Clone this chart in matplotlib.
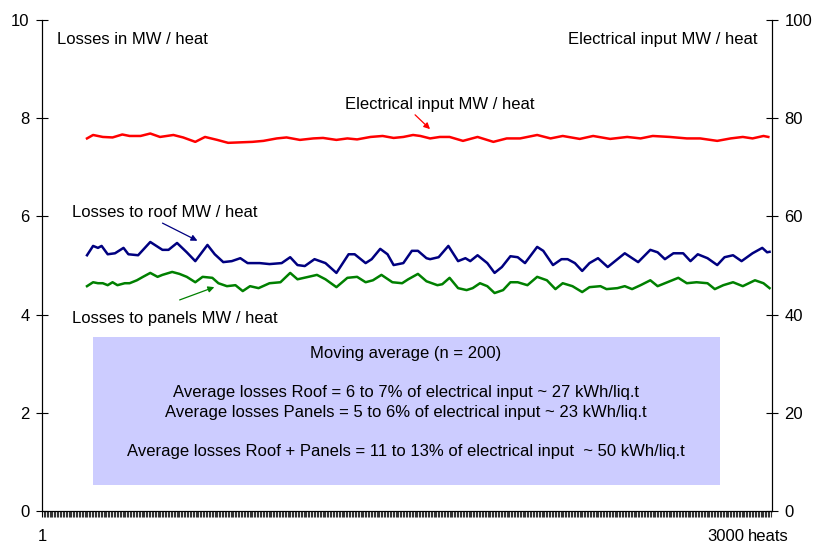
import numpy as np
import matplotlib.pyplot as plt
from matplotlib.patches import Rectangle

plt.rcParams['font.family'] = ['Liberation Sans', 'DejaVu Sans']

# moving averages (n = 200)
roof_heats = [185, 210, 230, 245, 270, 300, 335, 355, 395, 445, 495, 520, 555, 595, 630, 680,
              710, 745, 780, 815, 845, 895, 935, 985, 1020, 1050, 1080, 1120, 1165, 1210, 1260,
              1285, 1330, 1355, 1390, 1420, 1445, 1485, 1520, 1545, 1580, 1595, 1630, 1670, 1710,
              1740, 1760, 1790, 1830, 1860, 1890, 1925, 1955, 1985, 2035, 2060, 2100, 2135, 2160,
              2190, 2220, 2250, 2285, 2325, 2365, 2395, 2450, 2500, 2530, 2560, 2595, 2635, 2665,
              2695, 2735, 2775, 2805, 2840, 2875, 2920, 2960, 2980, 2990]
roof_loss = [5.21, 5.40, 5.36, 5.40, 5.23, 5.25, 5.36, 5.23, 5.21, 5.48, 5.32, 5.32, 5.46, 5.27,
             5.09, 5.42, 5.23, 5.07, 5.09, 5.15, 5.05, 5.05, 5.03, 5.05, 5.17, 5.01, 4.99, 5.13,
             5.05, 4.85, 5.23, 5.23, 5.05, 5.13, 5.34, 5.23, 5.01, 5.05, 5.30, 5.30, 5.15, 5.13,
             5.17, 5.40, 5.09, 5.15, 5.09, 5.21, 5.05, 4.85, 4.97, 5.19, 5.17, 5.05, 5.38, 5.30,
             5.01, 5.13, 5.13, 5.05, 4.89, 5.05, 5.15, 4.97, 5.13, 5.25, 5.07, 5.32, 5.27, 5.13,
             5.25, 5.25, 5.09, 5.23, 5.15, 5.01, 5.17, 5.21, 5.09, 5.25, 5.36, 5.27, 5.28]

panel_heats = [185, 210, 230, 250, 270, 290, 310, 340, 360, 390, 415, 445, 475, 495, 535, 565,
               595, 630, 660, 700, 725, 760, 795, 825, 855, 890, 935, 980, 1020, 1050, 1095,
               1130, 1165, 1210, 1255, 1295, 1330, 1360, 1395, 1440, 1480, 1505, 1545, 1580,
               1625, 1645, 1675, 1710, 1745, 1770, 1800, 1830, 1860, 1895, 1925, 1955, 1995,
               2035, 2075, 2110, 2140, 2180, 2220, 2250, 2295, 2320, 2365, 2395, 2425, 2460,
               2500, 2530, 2570, 2615, 2650, 2690, 2735, 2765, 2800, 2840, 2880, 2930, 2965, 2990]
panel_loss = [4.58, 4.66, 4.64, 4.64, 4.60, 4.66, 4.60, 4.64, 4.64, 4.70, 4.77, 4.85, 4.77, 4.81,
              4.87, 4.83, 4.77, 4.66, 4.77, 4.75, 4.64, 4.58, 4.60, 4.48, 4.58, 4.54, 4.64, 4.66,
              4.85, 4.72, 4.77, 4.81, 4.72, 4.56, 4.75, 4.77, 4.66, 4.70, 4.81, 4.66, 4.64, 4.72,
              4.83, 4.68, 4.60, 4.62, 4.75, 4.54, 4.50, 4.54, 4.64, 4.58, 4.44, 4.50, 4.66, 4.66,
              4.60, 4.77, 4.70, 4.52, 4.64, 4.58, 4.46, 4.56, 4.58, 4.52, 4.54, 4.58, 4.52, 4.60,
              4.70, 4.58, 4.66, 4.75, 4.64, 4.66, 4.64, 4.52, 4.60, 4.66, 4.58, 4.70, 4.64, 4.54]

elec_heats = [185, 210, 250, 290, 330, 360, 405, 445, 485, 540, 580, 630, 670, 720, 765, 815,
              865, 910, 965, 1005, 1060, 1115, 1155, 1210, 1255, 1295, 1350, 1400, 1445, 1485,
              1525, 1555, 1595, 1635, 1675, 1730, 1790, 1855, 1910, 1965, 2035, 2090, 2140,
              2210, 2265, 2335, 2405, 2460, 2510, 2580, 2650, 2705, 2775, 2830, 2880, 2920,
              2965, 2985]
elec_input = [75.9, 76.6, 76.2, 76.1, 76.7, 76.4, 76.4, 76.9, 76.2, 76.6, 76.1, 75.2, 76.2, 75.6,
              75.0, 75.1, 75.2, 75.4, 75.9, 76.1, 75.6, 75.9, 76.0, 75.6, 75.9, 75.7, 76.2, 76.4,
              76.0, 76.2, 76.6, 76.4, 75.9, 76.2, 76.2, 75.4, 76.2, 75.2, 75.9, 75.9, 76.6, 75.9,
              76.4, 75.8, 76.4, 75.8, 76.2, 75.9, 76.4, 76.2, 75.9, 75.9, 75.4, 75.9, 76.2, 75.9,
              76.4, 76.2]

box_lines = ["Moving average (n = 200)",
             "",
             "Average losses Roof = 6 to 7% of electrical input ~ 27 kWh/liq.t",
             "Average losses Panels = 5 to 6% of electrical input ~ 23 kWh/liq.t",
             "",
             "Average losses Roof + Panels = 11 to 13% of electrical input  ~ 50 kWh/liq.t"]

FS = 12

fig = plt.figure(figsize=(8.17, 5.44), dpi=100)
ax = fig.add_axes([0.0514, 0.0607, 0.8935, 0.9023])
ax2 = ax.twinx()

ax.plot(roof_heats, roof_loss, color='#000080', lw=1.8)
ax.plot(panel_heats, panel_loss, color='#008000', lw=1.8)
ax2.plot(elec_heats, elec_input, color='#FF0000', lw=1.8)

ax.set_xlim(0, 3000)
ax.set_ylim(0, 10)
ax2.set_ylim(0, 100)
ax.set_yticks(range(0, 11, 2))
ax2.set_yticks(range(0, 101, 20))

for a in (ax, ax2):
    a.spines['top'].set_visible(False)
    a.tick_params(axis='y', direction='inout', length=8, width=0.8, labelsize=FS, pad=5)

# dense category ticks along the bottom
ax.set_xticks([1])
ax.set_xticklabels(['1'], fontsize=FS)
ax.set_xticks(np.arange(1, 3001, 6), minor=True)
ax.tick_params(axis='x', which='major', length=4, pad=9)
ax.tick_params(axis='x', which='minor', length=4, width=0.8, color='#333333')
ax.text(0.962, -0.036, '3000', transform=ax.transAxes, ha='right', va='top', fontsize=FS)
ax.text(0.967, -0.037, 'heats', transform=ax.transAxes, ha='left', va='top', fontsize=FS)

ax.text(0.021, 0.975, 'Losses in MW / heat', transform=ax.transAxes, ha='left', va='top', fontsize=FS)
ax.text(0.98, 0.975, 'Electrical input MW / heat', transform=ax.transAxes, ha='right', va='top', fontsize=FS)

# annotations
arrow = dict(arrowstyle='-|>', lw=0.9, mutation_scale=9)
ax2.annotate('', xy=(1603, 77.4), xytext=(1525, 81.1), arrowprops=dict(arrow, color='#FF0000'))
ax2.text(1636, 82.9, 'Electrical input MW / heat', ha='center', va='center', fontsize=FS)
ax.annotate('', xy=(649, 5.48), xytext=(485, 5.89), arrowprops=dict(arrow, color='#000080'))
ax.text(123, 6.09, 'Losses to roof MW / heat', ha='left', va='center', fontsize=FS)
ax.annotate('', xy=(719, 4.58), xytext=(555, 4.28), arrowprops=dict(arrow, color='#008000'))
ax.text(123, 3.93, 'Losses to panels MW / heat', ha='left', va='center', fontsize=FS)

# summary box
ax.add_patch(Rectangle((0.0699, 0.053), 0.859, 0.301, transform=ax.transAxes,
                       facecolor='#CCCCFF', edgecolor='none', zorder=0))
ax.text(0.4986, 0.336, "\n".join(box_lines), transform=ax.transAxes, ha='center', va='top',
        fontsize=FS, linespacing=1.38)

fig.savefig('out.png', dpi=100)
